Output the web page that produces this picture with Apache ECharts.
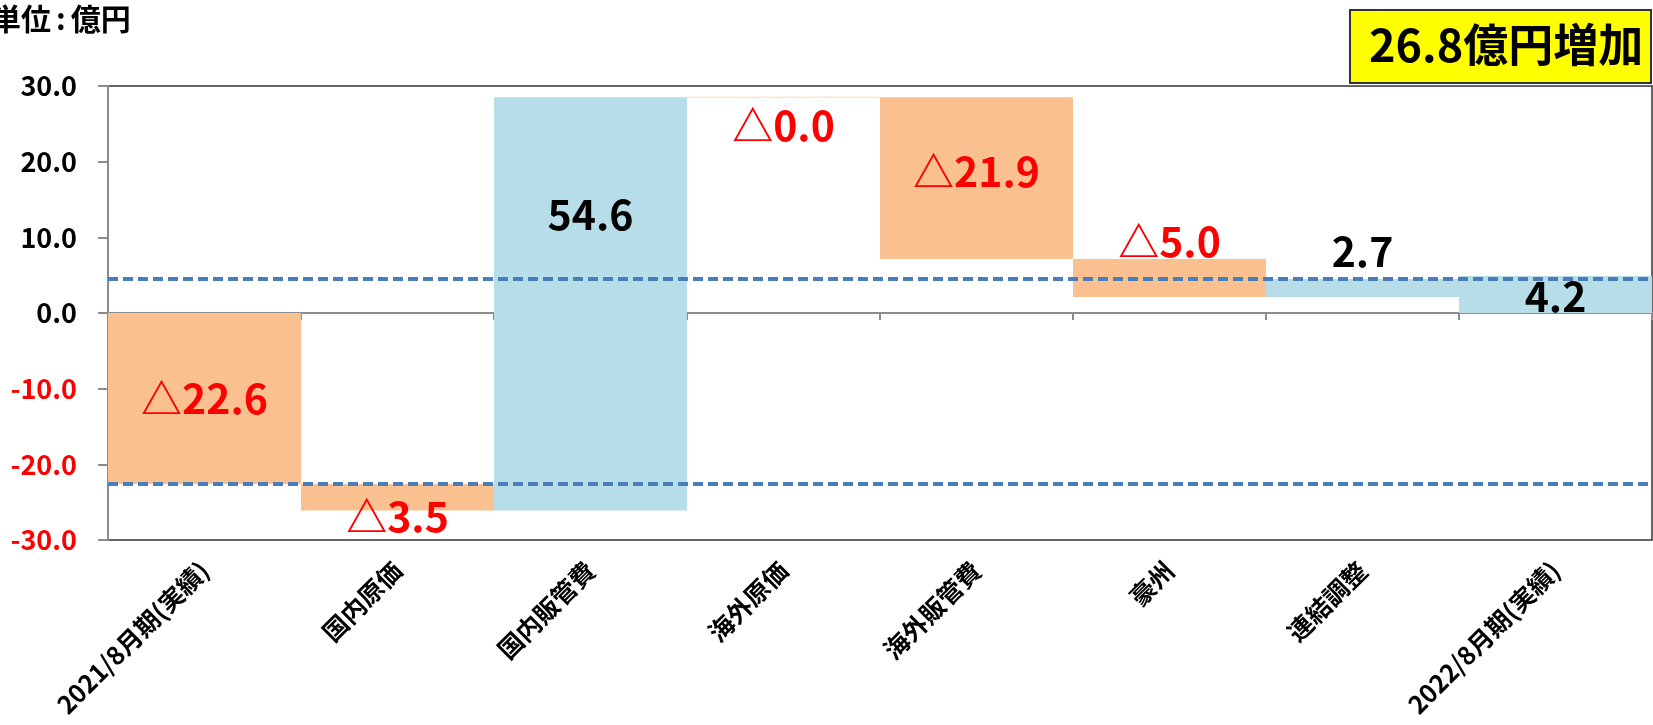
<!DOCTYPE html>
<html>
<head>
<meta charset="utf-8">
<script src="https://cdn.jsdelivr.net/npm/echarts@6/dist/echarts.min.js"></script>
<style>
html,body{margin:0;padding:0;background:#fff;}
#chart{width:1653px;height:725px;}
</style>
</head>
<body>
<div id="chart"></div>
<script>
// ---- data ----
const categories = ['2021/8月期(実績)', '国内原価', '国内販管費', '海外原価', '海外販管費', '豪州', '連結調整', '2022/8月期(実績)'];
const barFrom = [0, -22.6, -26.1, 28.5, 28.5, 7.15, 2.1, 0];
const barTo = [-22.6, -26.1, 28.5, 28.5, 7.15, 2.1, 4.5, 4.9];
const valueLabels = ['△22.6', '△3.5', '54.6', '△0.0', '△21.9', '△5.0', '2.7', '4.2'];
const refLines = [4.5, -22.6];
const yMin = -30, yMax = 30, yStep = 10;
const unitText = ['単位', ':', '億円'];
const summaryText = '26.8億円増加';

// ---- styling (not data) ----
const FONT = '"Noto Sans CJK JP", "Noto Sans", sans-serif';
const ORANGE = '#FAC090';
const BLUE = '#B7DEE8';
const RED = '#FF0000';
const labelShift = [0, 19, -89, 28, -7, -37, -37, 2];

const chart = echarts.init(document.getElementById('chart'));

const barData = categories.map((c, i) => [i, barFrom[i], barTo[i]]);

chart.setOption({
  animation: false,
  backgroundColor: '#ffffff',
  textStyle: { fontFamily: FONT },
  grid: {
    left: 108, right: 1, top: 86, bottom: 185,
    show: true, borderColor: '#333', borderWidth: 1.5,
    containLabel: false, outerBoundsMode: 'none'
  },
  xAxis: [
    {
      type: 'category', data: categories, position: 'bottom',
      axisLine: { onZero: true, lineStyle: { color: '#8c8c8c', width: 2 } },
      axisTick: { show: true, length: 7, interval: 0, lineStyle: { color: '#8c8c8c', width: 2 } },
      axisLabel: { show: false },
      splitLine: { show: false }
    },
    {
      type: 'category', data: categories, position: 'bottom',
      axisLine: { show: false, onZero: false },
      axisTick: { show: false },
      axisLabel: {
        show: true, rotate: 45, interval: 0, margin: 26,
        fontFamily: FONT, fontSize: 25, fontWeight: 'bold', color: '#000'
      },
      splitLine: { show: false }
    }
  ],
  yAxis: {
    type: 'value', min: yMin, max: yMax, interval: yStep,
    axisLine: { show: true, lineStyle: { color: '#8c8c8c', width: 2 } },
    axisTick: { show: true, length: 10, lineStyle: { color: '#8c8c8c', width: 2 } },
    splitLine: { show: false },
    axisLabel: {
      margin: 31,
      formatter: v => (v < 0 ? '{r|' : '{k|') + v.toFixed(1) + '}',
      rich: {
        r: { color: RED, fontSize: 27, fontWeight: 'bold', fontFamily: FONT },
        k: { color: '#000', fontSize: 27, fontWeight: 'bold', fontFamily: FONT }
      }
    }
  },
  series: [
    {
      type: 'custom',
      xAxisIndex: 0,
      data: barData,
      renderItem: function (params, api) {
        const i = api.value(0), s = api.value(1), e = api.value(2);
        const p1 = api.coord([i, s]);
        const p2 = api.coord([i, e]);
        const w = api.size([1, 0])[0];
        const x = p1[0] - w / 2;
        let top = Math.min(p1[1], p2[1]);
        let h = Math.abs(p1[1] - p2[1]);
        const down = e <= s;
        let fill = down ? ORANGE : BLUE;
        if (h < 1) { h = 1.5; top -= 0.75; fill = '#FCE6D4'; }
        const txt = valueLabels[i];
        const cy = (p1[1] + p2[1]) / 2 + labelShift[i];
        return {
          type: 'group',
          children: [
            { type: 'rect', shape: { x: x, y: top, width: w, height: h }, style: { fill: fill } },
            {
              type: 'text', z2: 10,
              style: {
                text: txt, x: p1[0], y: cy, align: 'center', verticalAlign: 'middle',
                fill: txt.indexOf('△') === 0 ? RED : '#000',
                font: 'bold 41px ' + FONT
              }
            }
          ]
        };
      }
    },
    {
      type: 'line',
      data: [],
      silent: true,
      markLine: {
        silent: true, symbol: 'none', label: { show: false },
        lineStyle: { color: '#4A7EBB', width: 4, type: [10, 5] },
        data: refLines.map(v => ({ yAxis: v }))
      }
    }
  ],
  graphic: [
    {
      type: 'text', left: -9, top: 4,
      style: {
        text: '{a|' + unitText[0] + '}{b|' + unitText[1] + '}{a|' + unitText[2] + '}',
        rich: {
          a: { font: 'bold 30px ' + FONT, fill: '#000' },
          b: { font: 'bold 30px ' + FONT, fill: '#000', padding: [0, 5, 0, 5] }
        }
      }
    },
    {
      type: 'rect', left: 1349, top: 9,
      shape: { width: 301, height: 73 },
      style: { fill: '#FFFF00', stroke: '#333', lineWidth: 2 }
    },
    {
      type: 'text', left: 1369, top: 22,
      style: { text: summaryText, font: 'bold 45px ' + FONT, fill: '#000' }
    }
  ]
});
</script>
</body>
</html>
